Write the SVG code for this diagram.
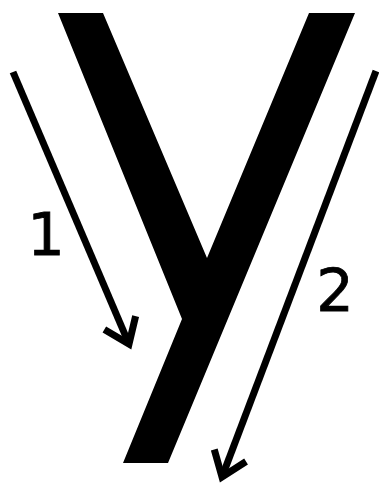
<svg xmlns="http://www.w3.org/2000/svg" width="379" height="486" viewBox="0 0 379 486">
<style>
.arrow{fill:none;stroke:#000;stroke-width:7;stroke-linecap:butt;stroke-linejoin:miter}
.lbl{font-family:"DejaVu Sans",sans-serif;font-size:59px;fill:#000;text-anchor:middle;stroke:#000;stroke-width:0.8}
</style>
<defs>
<marker id="head" markerUnits="userSpaceOnUse" markerWidth="60" markerHeight="60" viewBox="-30 -30 60 60" refX="0" refY="0" orient="auto" overflow="visible">
<path d="M-23,-17 L0,0 L-23,17" fill="none" stroke="#000" stroke-width="7" stroke-linejoin="miter"/>
</marker>
</defs>
<g id="letter-y">
<polygon points="58,13 103,13 207,258 309,13 355,13 168,463 123,463 182,319" fill="#000"/>
</g>
<g id="connectors">
<line class="arrow" x1="13" y1="72" x2="129" y2="344" marker-end="url(#head)"/>
<line class="arrow" x1="376" y1="71" x2="222" y2="477" marker-end="url(#head)"/>
</g>
<g id="label-1"><text class="lbl" x="46" y="255">1</text></g>
<g id="label-2"><text class="lbl" x="335" y="311">2</text></g>
</svg>
